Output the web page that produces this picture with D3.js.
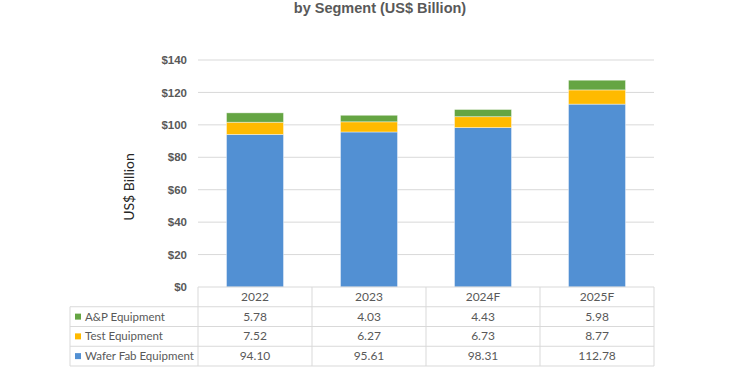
<!DOCTYPE html>
<html><head><meta charset="utf-8">
<script src="https://cdn.jsdelivr.net/npm/d3@7"></script>
<style>body{margin:0;background:#fff}svg{display:block}</style>
</head><body><svg id="c" width="750" height="375"></svg>
<script>
const categories = ["2022","2023","2024F","2025F"];
const seriesNames = ["Wafer Fab Equipment","Test Equipment","A&P Equipment"];
const waferFab = [94.10, 95.61, 98.31, 112.78];
const testEq = [7.52, 6.27, 6.73, 8.77];
const apEq = [5.78, 4.03, 4.43, 5.98];
const yTicks = [0,20,40,60,80,100,120,140];
const colors = {"Wafer Fab Equipment":"#5290D3","Test Equipment":"#FFBA00","A&P Equipment":"#65A543"};

(function(){
const svg = d3.select("#c");
const pLeft = 198, pRight = 654, pTop = 60, pBottom = 287;
const x = d3.scaleBand().domain(categories).range([pLeft,pRight]).paddingInner(0).paddingOuter(0);
const y = d3.scaleLinear().domain([0,140]).range([pBottom, pTop]);
const txt = "#595959";

svg.append("text").attr("x",380).attr("y",12.5).attr("text-anchor","middle")
  .attr("font-family","Liberation Sans, Arial, sans-serif").attr("font-weight","bold")
  .attr("font-size",14.5).attr("fill","#595959").text("by Segment (US$ Billion)");

// gridlines
svg.append("g").selectAll("line").data(yTicks.filter(d=>d>0)).join("line")
  .attr("x1",pLeft).attr("x2",pRight).attr("y1",d=>y(d)).attr("y2",d=>y(d))
  .attr("stroke","#D9D9D9").attr("stroke-width",1);

// y axis labels
const yAxis = d3.axisLeft(y).tickValues(yTicks).tickSize(0).tickPadding(11).tickFormat(d=>"$"+d);
const ga = svg.append("g").attr("transform",`translate(${pLeft},0)`).call(yAxis);
ga.select(".domain").remove();
ga.selectAll("text").attr("font-family","Liberation Sans, Arial, sans-serif").attr("font-weight","bold")
  .attr("font-size",11.5).attr("fill",txt);

svg.append("text").attr("transform","translate(134,187) rotate(-90)").attr("text-anchor","middle")
  .attr("font-family","Lato, 'Open Sans', sans-serif").attr("font-size",14).attr("fill","#262626").text("US$ Billion");

// stacked bars
const rows = categories.map((c,i)=>({cat:c,"Wafer Fab Equipment":waferFab[i],"Test Equipment":testEq[i],"A&P Equipment":apEq[i]}));
const stack = d3.stack().keys(seriesNames)(rows);
const bw = x.bandwidth()*0.5;
svg.append("g").selectAll("g").data(stack).join("g").attr("fill",d=>colors[d.key])
  .selectAll("rect").data(d=>d).join("rect")
  .attr("x",d=>x(d.data.cat)+(x.bandwidth()-bw)/2).attr("width",bw)
  .attr("y",d=>y(d[1])).attr("height",d=>y(d[0])-y(d[1]))
  .attr("stroke","#ffffff").attr("stroke-opacity",0.5).attr("stroke-width",0.8);

// data table
const tLeft = 70, rowH = 19.75;
const tableRows = [
  {name:"A&P Equipment", vals:apEq},
  {name:"Test Equipment", vals:testEq},
  {name:"Wafer Fab Equipment", vals:waferFab}
];
const tg = svg.append("g");
const lineC = "#D9D9D9";
tg.append("line").attr("x1",pLeft).attr("x2",pRight).attr("y1",pBottom).attr("y2",pBottom).attr("stroke",lineC);
for(let r=1;r<=4;r++){
  tg.append("line").attr("x1",tLeft).attr("x2",pRight).attr("y1",pBottom+r*rowH).attr("y2",pBottom+r*rowH).attr("stroke",lineC);
}
tg.append("line").attr("x1",tLeft).attr("x2",tLeft).attr("y1",pBottom+rowH).attr("y2",pBottom+4*rowH).attr("stroke",lineC);
const vx = categories.map(c=>x(c)).concat([pRight]);
tg.selectAll("line.v").data(vx).join("line").attr("class","v")
  .attr("x1",d=>d).attr("x2",d=>d).attr("y1",pBottom).attr("y2",pBottom+4*rowH).attr("stroke",lineC);

const font = "Lato, 'Open Sans', sans-serif";
tg.selectAll("text.h").data(categories).join("text").attr("class","h")
  .attr("x",d=>x(d)+x.bandwidth()/2).attr("y",pBottom+rowH/2+4).attr("text-anchor","middle")
  .attr("font-family",font).attr("font-size",12).attr("fill",txt).text(d=>d);

tableRows.forEach((row,ri)=>{
  const cy = pBottom+(ri+1)*rowH+rowH/2;
  tg.append("rect").attr("x",75).attr("y",cy-3).attr("width",6).attr("height",6).attr("fill",colors[row.name]);
  tg.append("text").attr("x",85).attr("y",cy+4).attr("font-family",font).attr("font-size",11.5).attr("fill",txt).text(row.name);
  tg.selectAll(null).data(row.vals).join("text")
    .attr("x",(d,i)=>x(categories[i])+x.bandwidth()/2).attr("y",cy+4).attr("text-anchor","middle")
    .attr("font-family",font).attr("font-size",12).attr("fill",txt).text(d=>d.toFixed(2));
});
})();
</script></body></html>
